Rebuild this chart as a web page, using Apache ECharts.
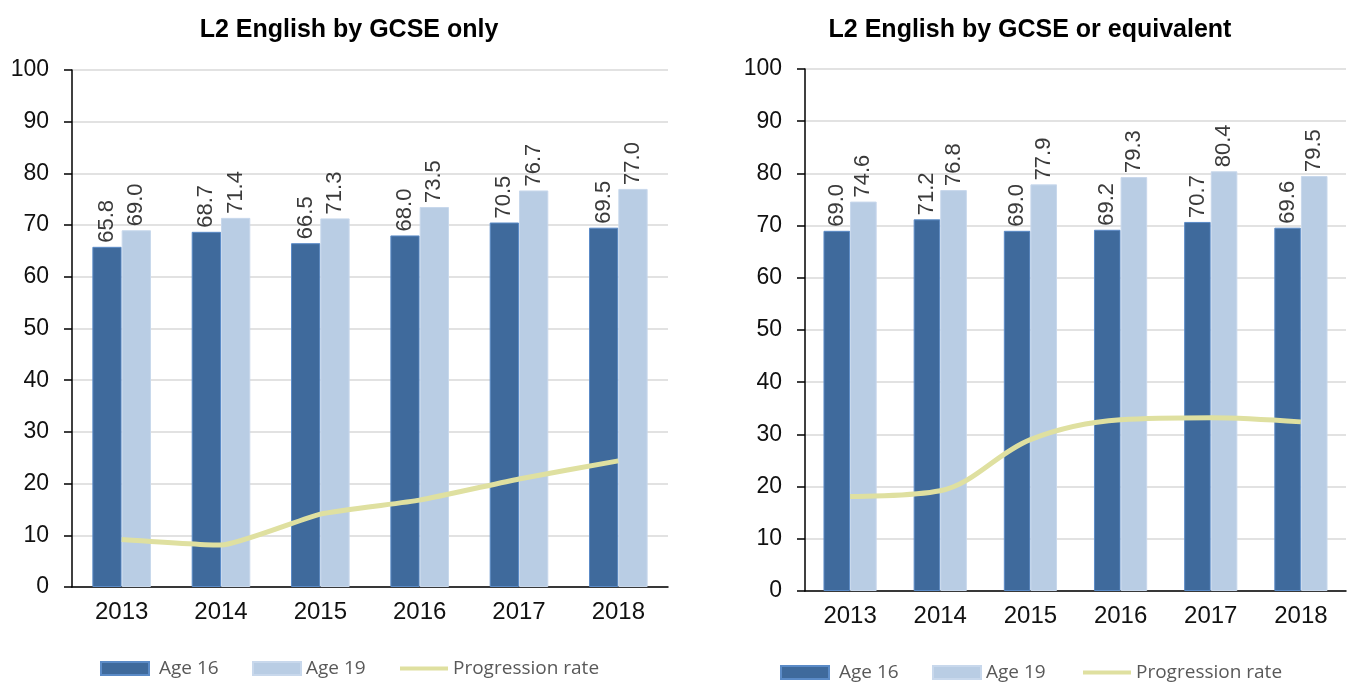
<!DOCTYPE html>
<html><head><meta charset="utf-8">
<script src="https://cdn.jsdelivr.net/npm/echarts@6/dist/echarts.min.js"></script>
<style>html,body{margin:0;padding:0;background:#fff}#c{width:1354px;height:682px}</style>
</head><body><div id="c"></div>
<script>
const years = ['2013', '2014', '2015', '2016', '2017', '2018'];
const gcseAge16 = [65.8, 68.7, 66.5, 68.0, 70.5, 69.5];
const gcseAge19 = [69.0, 71.4, 71.3, 73.5, 76.7, 77.0];
const gcseProg = [9.2, 8.1, 14.1, 16.8, 20.9, 24.4];
const equivAge16 = [69.0, 71.2, 69.0, 69.2, 70.7, 69.6];
const equivAge19 = [74.6, 76.8, 77.9, 79.3, 80.4, 79.5];
const equivProg = [18.1, 19.2, 29.0, 32.8, 33.2, 32.4];
const titles = ['L2 English by GCSE only', 'L2 English by GCSE or equivalent'];
const seriesNames = ['Age 16', 'Age 19', 'Progression rate'];

const DARK = '#3f6a9c', LIGHT = '#b9cde4', LINE = '#dfe0a0';
const FONT = '"Liberation Sans", Arial, sans-serif';
const LFONT = '"Open Sans", sans-serif';

const chart = echarts.init(document.getElementById('c'), null, {renderer: 'canvas'});

const grids = [
  {left: 72, top: 70, width: 596, height: 517},
  {left: 805, top: 69, width: 541, height: 522}
];

function xAxis(i) {
  return {
    type: 'category', gridIndex: i, data: years,
    axisLine: {lineStyle: {color: '#000', width: 1.5}},
    axisTick: {length: 8, lineStyle: {color: '#000', width: 1.5}},
    axisLabel: {color: '#111', fontSize: 24, fontFamily: FONT, margin: 13}
  };
}
function yAxis(i) {
  return {
    type: 'value', gridIndex: i, min: 0, max: 100, interval: 10,
    axisLine: {show: true, lineStyle: {color: '#000', width: 1.5}},
    axisTick: {show: true, length: 8, lineStyle: {color: '#000', width: 1.5}},
    axisLabel: {color: '#111', fontSize: 23, fontFamily: FONT, margin: 23},
    splitLine: {lineStyle: {color: '#d9d9d9', width: 1.5}}
  };
}
const barLabel = {
  show: true, position: 'top', rotate: 90, align: 'left', verticalAlign: 'middle',
  distance: 4, color: '#3a3a3a', fontSize: 22, fontFamily: FONT,
  formatter: p => p.value.toFixed(1)
};
function bars(i, name, data, color, border) {
  return {
    type: 'bar', name, xAxisIndex: i, yAxisIndex: i, data,
    barGap: '0%', barCategoryGap: '41%',
    itemStyle: {color, borderColor: border, borderWidth: 1},
    label: barLabel, emphasis: {disabled: true}
  };
}
function line(i, data, smooth) {
  return {
    type: 'line', name: 'Progression rate', xAxisIndex: i, yAxisIndex: i, data,
    symbol: 'none', smooth, z: 5,
    lineStyle: {color: LINE, width: 5}, itemStyle: {color: LINE},
    emphasis: {disabled: true}
  };
}
function legendItem(name, left, top, extra) {
  const item = {name};
  if (name === 'Progression rate') item.itemStyle = {opacity: 0};
  else item.icon = 'rect';
  return {
    left, top, itemWidth: 48, itemHeight: 13, selectedMode: false,
    textStyle: Object.assign({color: '#595959', fontSize: 19, fontFamily: LFONT}, extra || {}),
    lineStyle: {width: 4},
    data: [item]
  };
}

chart.setOption({
  animation: false,
  backgroundColor: '#fff',
  title: [
    {text: titles[0], left: 344, top: 13, textAlign: 'center',
     textStyle: {fontSize: 25, fontWeight: 'bold', color: '#000', fontFamily: FONT}},
    {text: titles[1], left: 1025, top: 13, textAlign: 'center',
     textStyle: {fontSize: 25, fontWeight: 'bold', color: '#000', fontFamily: FONT}}
  ],
  legend: [
    legendItem(seriesNames[0], 95, 654, {padding: [0, 0, 0, 5]}),
    legendItem(seriesNames[1], 247, 654),
    legendItem(seriesNames[2], 393, 654),
    legendItem(seriesNames[0], 775, 658, {padding: [0, 0, 0, 5]}),
    legendItem(seriesNames[1], 927, 658),
    legendItem(seriesNames[2], 1076, 658)
  ],
  grid: grids,
  xAxis: [xAxis(0), xAxis(1)],
  yAxis: [yAxis(0), yAxis(1)],
  series: [
    bars(0, seriesNames[0], gcseAge16, DARK, '#5b8bc7'),
    bars(0, seriesNames[1], gcseAge19, LIGHT, '#c8d8ec'),
    line(0, gcseProg, 0.15),
    bars(1, seriesNames[0], equivAge16, DARK, '#5b8bc7'),
    bars(1, seriesNames[1], equivAge19, LIGHT, '#c8d8ec'),
    line(1, equivProg, 0.35)
  ]
});
</script></body></html>
